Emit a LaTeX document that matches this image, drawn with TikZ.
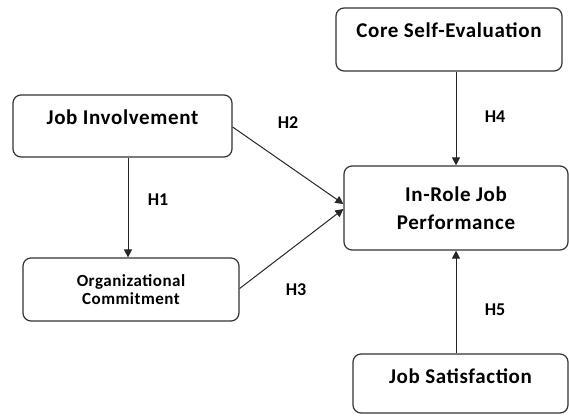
\documentclass[tikz,border=0pt]{standalone}
\usepackage{fontspec}
\setmainfont{Carlito}
\usetikzlibrary{positioning, arrows.meta}

\tikzset{
    factor/.style={rectangle, draw=black!80, line width=1.2pt, rounded corners=8pt, align=center, font=\bfseries\fontsize{21}{28}\selectfont\addfontfeature{LetterSpace=3}},
    hyp/.style={font=\bfseries\fontsize{18}{20}\selectfont},
    effect/.style={draw=black!85, line width=1pt, -{Triangle[length=8pt,width=8pt]}}
}

\begin{document}
\begin{tikzpicture}[x=1pt, y=-1pt]
\useasboundingbox (0,0) rectangle (569,417);
% Constructs
\node[factor, minimum width=219pt, minimum height=62pt, text depth=18pt] (jobinv) at (122.5,126) {Job Involvement};
\node[factor, minimum width=216pt, minimum height=63pt, font=\bfseries\fontsize{17}{18}\selectfont\addfontfeature{LetterSpace=3}] (orgcom) at (131,289.5) {Organizational\\Commitment};
\node[factor, minimum width=226pt, minimum height=63pt, text depth=18pt] (coreself) at (449,39.5) {Core Self-Evaluation};
\node[factor, minimum width=224pt, minimum height=84pt] (inrole) at (456,208) {In-Role Job\\Performance};
\node[factor, minimum width=215pt, minimum height=59pt, text depth=15pt] (jobsat) at (460.5,383.5) {Job Satisfaction};

% Hypothesised paths
\draw[effect] ([xshift=5.5pt]jobinv.south) -- ([xshift=-3pt]orgcom.north);
\draw[effect] ([yshift=-1pt]jobinv.east) -- ([yshift=4pt]inrole.west);
\draw[effect] ([yshift=1pt]orgcom.east) -- ([yshift=-1pt]inrole.west);
\draw[effect] (inrole.north |- coreself.south) -- (inrole.north);
\draw[effect] (inrole.south |- jobsat.north) -- (inrole.south);

% Labels
\node[hyp] (h1) at (158,200) {H1};
\node[hyp] (h2) at (288,123) {H2};
\node[hyp] (h3) at (296,290) {H3};
\node[hyp] (h4) at (495,117) {H4};
\node[hyp] (h5) at (495,310) {H5};
\end{tikzpicture}
\end{document}
